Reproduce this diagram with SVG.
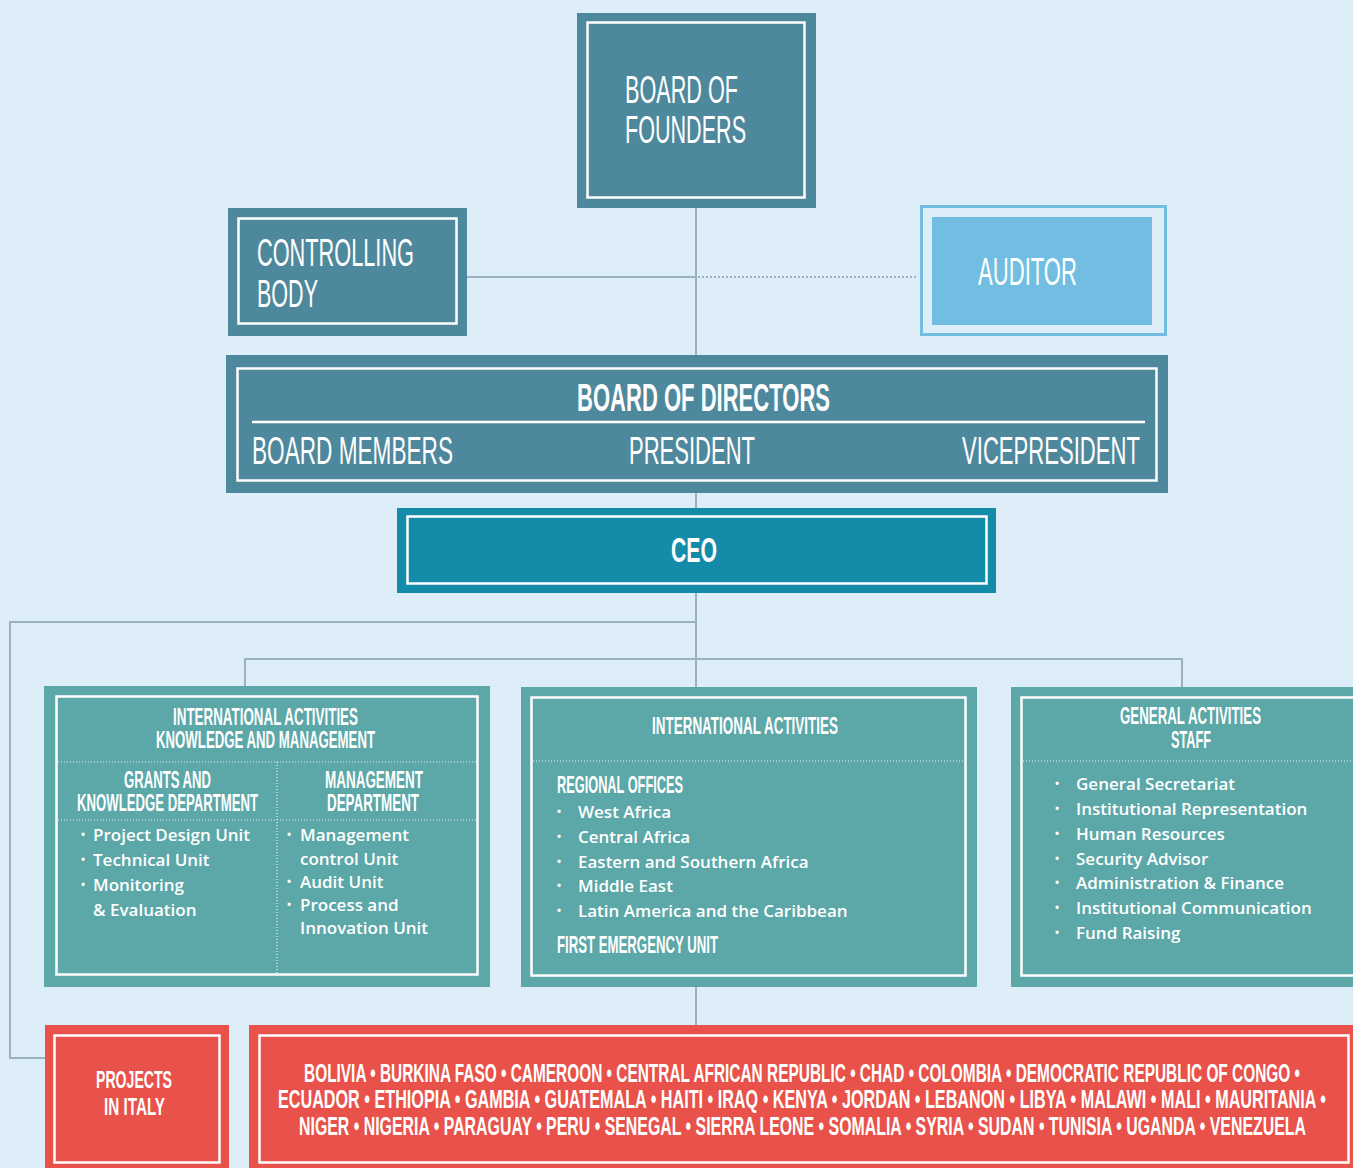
<svg xmlns="http://www.w3.org/2000/svg" width="1353" height="1168" viewBox="0 0 1353 1168">
<style>
.cond{font-family:"Liberation Sans",Arial,sans-serif;fill:#fff}
.thin{font-weight:normal}
.bold{font-weight:bold}
.body{font-family:"Open Sans","Noto Sans",sans-serif;font-weight:600;font-size:17px;fill:#fff}
.bul{font-family:"Open Sans","Noto Sans",sans-serif;font-weight:700;font-size:11px;fill:#fff}
.inner{fill:none;stroke:#fff;stroke-width:2.5}
.dot{stroke:#fff;stroke-width:1.2;stroke-dasharray:1 2;opacity:0.85;fill:none}
.conn{fill:none;stroke:#9bb0c0;stroke-width:2}
.dark{fill:#4e889d}
.teal{fill:#5ca7a8}
.red{fill:#e8524a}
</style>
<rect x="0" y="0" width="1353" height="1168" fill="#ddeef8"/>

<g id="connectors">
<line class="conn" x1="696" y1="208" x2="696" y2="1025"/>
<line class="conn" x1="467" y1="277" x2="696" y2="277" stroke-width="3.5"/>
<line class="conn" x1="698" y1="277" x2="917" y2="277" stroke-dasharray="2 2"/>
<polyline class="conn" points="696,622 10,622 10,1058 45,1058"/>
<polyline class="conn" points="245,687 245,659 1182,659 1182,687"/>
</g>

<g id="board-of-founders">
<rect class="dark" x="577" y="13" width="239" height="195"/>
<rect class="inner" x="587.5" y="22.5" width="217" height="175"/>
<text class="cond thin" transform="translate(625,103) scale(0.6,1)" font-size="38" textLength="188.3" lengthAdjust="spacingAndGlyphs">BOARD OF</text>
<text class="cond thin" transform="translate(625,143) scale(0.6,1)" font-size="38" textLength="201.7" lengthAdjust="spacingAndGlyphs">FOUNDERS</text>
</g>

<g id="controlling-body">
<rect class="dark" x="228" y="208" width="239" height="128"/>
<rect class="inner" x="238.5" y="218.5" width="218" height="105"/>
<text class="cond thin" transform="translate(257,266) scale(0.6,1)" font-size="38" textLength="261.7" lengthAdjust="spacingAndGlyphs">CONTROLLING</text>
<text class="cond thin" transform="translate(257,307) scale(0.6,1)" font-size="38" textLength="101.7" lengthAdjust="spacingAndGlyphs">BODY</text>
</g>

<g id="auditor">
<rect x="921.5" y="206.5" width="244" height="128" fill="none" stroke="#72bee2" stroke-width="3"/>
<rect x="932" y="217" width="220" height="108" fill="#72bee2"/>
<text class="cond thin" transform="translate(978,285) scale(0.6,1)" font-size="38" textLength="165" lengthAdjust="spacingAndGlyphs">AUDITOR</text>
</g>

<g id="board-of-directors">
<rect class="dark" x="226" y="355" width="942" height="138"/>
<rect class="inner" x="237.5" y="368.5" width="919" height="112"/>
<line x1="252" y1="422" x2="1145" y2="422" stroke="#fff" stroke-width="2.5"/>
<text class="cond bold" transform="translate(577,411) scale(0.6,1)" font-size="38" textLength="421.7" lengthAdjust="spacingAndGlyphs">BOARD OF DIRECTORS</text>
<text class="cond thin" transform="translate(252,464) scale(0.6,1)" font-size="38" textLength="335" lengthAdjust="spacingAndGlyphs">BOARD MEMBERS</text>
<text class="cond thin" transform="translate(629,464) scale(0.6,1)" font-size="38" textLength="210" lengthAdjust="spacingAndGlyphs">PRESIDENT</text>
<text class="cond thin" transform="translate(962,464) scale(0.6,1)" font-size="38" textLength="296.7" lengthAdjust="spacingAndGlyphs">VICEPRESIDENT</text>
</g>

<g id="ceo">
<rect x="397" y="508" width="599" height="85" fill="#148ba8"/>
<rect class="inner" x="407.5" y="516.5" width="579" height="67"/>
<text class="cond bold" transform="translate(671,562) scale(0.6,1)" font-size="36" textLength="76.7" lengthAdjust="spacingAndGlyphs">CEO</text>
</g>

<g id="intl-knowledge-management">
<rect class="teal" x="44" y="686" width="446" height="301"/>
<rect class="inner" x="56.5" y="696.5" width="421" height="278"/>
<text class="cond bold" transform="translate(173,725) scale(0.6,1)" font-size="23" textLength="308.3" lengthAdjust="spacingAndGlyphs">INTERNATIONAL ACTIVITIES</text>
<text class="cond bold" transform="translate(156,748) scale(0.6,1)" font-size="23" textLength="365" lengthAdjust="spacingAndGlyphs">KNOWLEDGE AND MANAGEMENT</text>
<line class="dot" x1="58" y1="762" x2="476" y2="762"/>
<line class="dot" x1="277" y1="762" x2="277" y2="974"/>
<line class="dot" x1="58" y1="820" x2="476" y2="820"/>
<text class="cond bold" transform="translate(124,788) scale(0.6,1)" font-size="23" textLength="145" lengthAdjust="spacingAndGlyphs">GRANTS AND</text>
<text class="cond bold" transform="translate(77,811) scale(0.6,1)" font-size="23" textLength="301.7" lengthAdjust="spacingAndGlyphs">KNOWLEDGE DEPARTMENT</text>
<text class="cond bold" transform="translate(325,788) scale(0.6,1)" font-size="23" textLength="163.3" lengthAdjust="spacingAndGlyphs">MANAGEMENT</text>
<text class="cond bold" transform="translate(327,811) scale(0.6,1)" font-size="23" textLength="153.3" lengthAdjust="spacingAndGlyphs">DEPARTMENT</text>
<text class="bul" x="81" y="838">•</text>
<text class="bul" x="81" y="863">•</text>
<text class="bul" x="81" y="888">•</text>
<text class="body" x="93" y="841">Project Design Unit</text>
<text class="body" x="93" y="866">Technical Unit</text>
<text class="body" x="93" y="891">Monitoring</text>
<text class="body" x="93" y="916">&amp; Evaluation</text>
<text class="bul" x="287" y="838">•</text>
<text class="bul" x="287" y="885">•</text>
<text class="bul" x="287" y="908">•</text>
<text class="body" x="300" y="841">Management</text>
<text class="body" x="300" y="865">control Unit</text>
<text class="body" x="300" y="888">Audit Unit</text>
<text class="body" x="300" y="911">Process and</text>
<text class="body" x="300" y="934">Innovation Unit</text>
</g>

<g id="intl-activities">
<rect class="teal" x="521" y="687" width="456" height="300"/>
<rect class="inner" x="531.5" y="697.5" width="434" height="278"/>
<text class="cond bold" transform="translate(652,734) scale(0.6,1)" font-size="23" textLength="310" lengthAdjust="spacingAndGlyphs">INTERNATIONAL ACTIVITIES</text>
<line class="dot" x1="533" y1="761" x2="967" y2="761"/>
<text class="cond bold" transform="translate(557,793) scale(0.6,1)" font-size="24" textLength="210" lengthAdjust="spacingAndGlyphs">REGIONAL OFFICES</text>
<text class="bul" x="557" y="815">•</text>
<text class="bul" x="557" y="840">•</text>
<text class="bul" x="557" y="865">•</text>
<text class="bul" x="557" y="889">•</text>
<text class="bul" x="557" y="914">•</text>
<text class="body" x="578" y="818">West Africa</text>
<text class="body" x="578" y="843">Central Africa</text>
<text class="body" x="578" y="868">Eastern and Southern Africa</text>
<text class="body" x="578" y="892">Middle East</text>
<text class="body" x="578" y="917">Latin America and the Caribbean</text>
<text class="cond bold" transform="translate(557,953) scale(0.6,1)" font-size="24" textLength="268.3" lengthAdjust="spacingAndGlyphs">FIRST EMERGENCY UNIT</text>
</g>

<g id="general-activities">
<rect class="teal" x="1011" y="687" width="350" height="300"/>
<rect class="inner" x="1021.5" y="697.5" width="340" height="278"/>
<text class="cond bold" transform="translate(1120,724) scale(0.6,1)" font-size="23" textLength="235" lengthAdjust="spacingAndGlyphs">GENERAL ACTIVITIES</text>
<text class="cond bold" transform="translate(1171,748) scale(0.6,1)" font-size="23" textLength="66.7" lengthAdjust="spacingAndGlyphs">STAFF</text>
<line class="dot" x1="1023" y1="761" x2="1353" y2="761"/>
<text class="bul" x="1055" y="787">•</text>
<text class="bul" x="1055" y="812">•</text>
<text class="bul" x="1055" y="837">•</text>
<text class="bul" x="1055" y="862">•</text>
<text class="bul" x="1055" y="886">•</text>
<text class="bul" x="1055" y="911">•</text>
<text class="bul" x="1055" y="936">•</text>
<text class="body" x="1076" y="790">General Secretariat</text>
<text class="body" x="1076" y="815">Institutional Representation</text>
<text class="body" x="1076" y="840">Human Resources</text>
<text class="body" x="1076" y="865">Security Advisor</text>
<text class="body" x="1076" y="889">Administration &amp; Finance</text>
<text class="body" x="1076" y="914">Institutional Communication</text>
<text class="body" x="1076" y="939">Fund Raising</text>
</g>

<g id="projects-italy">
<rect class="red" x="45" y="1025" width="184" height="150"/>
<rect class="inner" x="54.5" y="1035.5" width="165" height="127"/>
<text class="cond bold" transform="translate(96,1088) scale(0.6,1)" font-size="24" textLength="126.7" lengthAdjust="spacingAndGlyphs">PROJECTS</text>
<text class="cond bold" transform="translate(104,1115) scale(0.6,1)" font-size="24" textLength="101.7" lengthAdjust="spacingAndGlyphs">IN ITALY</text>
</g>

<g id="countries">
<rect class="red" x="249" y="1025" width="1110" height="150"/>
<rect class="inner" x="259.5" y="1035.5" width="1089" height="127"/>
<text class="cond bold" transform="translate(304,1082) scale(0.6,1)" font-size="25" textLength="1660" lengthAdjust="spacingAndGlyphs">BOLIVIA • BURKINA FASO • CAMEROON • CENTRAL AFRICAN REPUBLIC • CHAD • COLOMBIA • DEMOCRATIC REPUBLIC OF CONGO •</text>
<text class="cond bold" transform="translate(278,1108) scale(0.6,1)" font-size="25" textLength="1746.7" lengthAdjust="spacingAndGlyphs">ECUADOR • ETHIOPIA • GAMBIA • GUATEMALA • HAITI • IRAQ • KENYA • JORDAN • LEBANON • LIBYA • MALAWI • MALI • MAURITANIA •</text>
<text class="cond bold" transform="translate(299,1135) scale(0.6,1)" font-size="25" textLength="1678.3" lengthAdjust="spacingAndGlyphs">NIGER • NIGERIA • PARAGUAY • PERU • SENEGAL • SIERRA LEONE • SOMALIA • SYRIA • SUDAN • TUNISIA • UGANDA • VENEZUELA</text>
</g>
</svg>
